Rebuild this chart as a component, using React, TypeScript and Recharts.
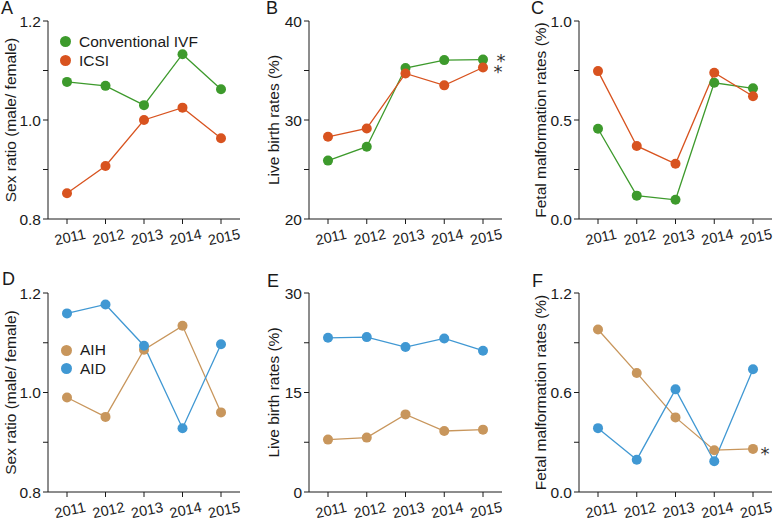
import React from "react";
import { LineChart, Line, XAxis, YAxis, Legend, LabelList, Label } from "recharts";

// years on the x axis
const years = ["2011", "2012", "2013", "2014", "2015"];

// IVF / ICSI
const sexRatioIVF = [1.077, 1.069, 1.03, 1.133, 1.062];
const sexRatioICSI = [0.852, 0.907, 1.0, 1.025, 0.963];
const liveBirthIVF = [25.9, 27.3, 35.25, 36.05, 36.1];
const liveBirthICSI = [28.3, 29.15, 34.7, 33.5, 35.3];
const malformIVF = [0.456, 0.118, 0.097, 0.688, 0.66];
const malformICSI = [0.747, 0.369, 0.279, 0.739, 0.62];

// AIH / AID
const sexRatioAIH = [0.99, 0.951, 1.086, 1.134, 0.96];
const sexRatioAID = [1.159, 1.177, 1.094, 0.928, 1.097];
const liveBirthAIH = [7.9, 8.2, 11.7, 9.2, 9.4];
const liveBirthAID = [23.25, 23.35, 21.85, 23.15, 21.3];
const malformAIH = [0.98, 0.718, 0.45, 0.252, 0.26];
const malformAID = [0.385, 0.195, 0.619, 0.185, 0.74];

// significance marks (2015 vs 2011)
const liveBirthIVFSig = ["", "", "", "", "*"];
const liveBirthICSISig = ["", "", "", "", "*"];
const malformAIHSig = ["", "", "", "", "*"];
const noSig = ["", "", "", "", ""];

const GREEN = "#3d9a2c";
const ORANGE = "#d8531f";
const BLUE = "#4098d3";
const TAN = "#c8965c";
const INK = "#1a1a1a";
const FONT = "'Liberation Sans', Arial, sans-serif";

type Series = { name: string; values: number[]; color: string; sig: string[]; sigDx: number; sigDy: number };

const YearTick = (props: any) => {
  const { x, y, payload } = props;
  const cx = x + 3;
  const cy = y + 11;
  return (
    <text x={cx} y={cy} transform={`rotate(-12 ${cx} ${cy})`} textAnchor="middle" dominantBaseline="central"
      fill={INK} fontSize={14.5} fontFamily={FONT}>
      {payload.value}
    </text>
  );
};

const DotLegend = (props: any) => {
  const { payload, rowH, order } = props;
  const items = [...(payload || [])].sort(
    (a: any, b: any) => order.indexOf(a.value) - order.indexOf(b.value)
  );
  return (
    <div style={{ fontFamily: FONT, fontSize: 15.5, color: INK }}>
      {items.map((p: any) => (
        <div key={p.value} style={{ display: "flex", alignItems: "center", height: rowH }}>
          <span style={{ width: 11, height: 11, borderRadius: "50%", background: p.color, marginRight: 8 }} />
          <span>{p.value}</span>
        </div>
      ))}
    </div>
  );
};

type PanelProps = {
  left: number; top: number; width: number; height: number;
  margin: { top: number; right: number; bottom: number; left: number };
  xHeight: number;
  domain: [number, number]; ticks: number[]; labeled: number[]; decimals: number;
  yLabel: string; labelGap: number;
  series: Series[];
  legend?: { left: number; top: number; rowH: number };
};

const Panel = (p: PanelProps) => {
  const rows = years.map((yr, i) => {
    const r: any = { year: yr };
    p.series.forEach((s, k) => {
      r["v" + k] = s.values[i];
      r["s" + k] = s.sig[i];
    });
    return r;
  });
  const order = p.series.map((s) => s.name);
  return (
    <div style={{ position: "absolute", left: p.left, top: p.top }}>
      <LineChart width={p.width} height={p.height} data={rows} margin={p.margin} style={{ fontFamily: FONT }}>
        <XAxis dataKey="year" height={p.xHeight} padding={{ left: 19, right: 19 }} interval={0}
          tickSize={5} tick={<YearTick />} stroke={INK} tickLine={{ stroke: INK }} />
        <YAxis width={30} domain={p.domain} ticks={p.ticks} type="number" allowDataOverflow
          tickSize={5} tickMargin={2} stroke={INK}
          tick={{ fill: INK, fontSize: 15.5, fontFamily: FONT }}
          tickFormatter={(v: number) => (p.labeled.some((l) => Math.abs(l - v) < 1e-9) ? v.toFixed(p.decimals) : "")}>
          <Label content={(lp: any) => {
            const vb = lp.viewBox || {};
            const cx = vb.x + vb.width - p.labelGap;
            const cy = vb.y + vb.height / 2;
            return (
              <text x={cx} y={cy} transform={`rotate(-90 ${cx} ${cy})`} textAnchor="middle" dominantBaseline="central"
                fill={INK} fontSize={15.5} fontFamily={FONT}>
                {p.yLabel}
              </text>
            );
          }} />
        </YAxis>
        {p.legend && (
          <Legend layout="vertical" align="center" verticalAlign="middle"
            wrapperStyle={{ left: p.legend.left, top: p.legend.top, width: "auto" }}
            content={(lp: any) => <DotLegend {...lp} rowH={p.legend!.rowH} order={order} />} />
        )}
        {p.series.map((s, k) => (
          <Line key={s.name} name={s.name} dataKey={"v" + k} type="linear" stroke={s.color} strokeWidth={1.3}
            dot={{ r: 5, fill: s.color, stroke: s.color, strokeWidth: 0 }} activeDot={false}
            isAnimationActive={false} legendType="circle">
            <LabelList dataKey={"s" + k} content={(lp: any) => {
              if (!lp.value) return null;
              return (
                <text x={lp.x + s.sigDx} y={lp.y + s.sigDy + 10} textAnchor="middle" fill="#333"
                  fontSize={18} fontFamily="'DejaVu Sans', sans-serif">
                  {lp.value}
                </text>
              );
            }} />
          </Line>
        ))}
      </LineChart>
    </div>
  );
};

const rowTop = { top: 21, bottom: 0 };
const rowBot = { top: 34, bottom: 0 };
const colA = { left: 18, right: 15 };
const colB = { left: 21, right: 11 };
const colC = { left: 33, right: 2 };

export default function App() {
  return (
    <div style={{ position: "absolute", left: 0, top: 0, width: 774, height: 518, background: "#fff", overflow: "hidden" }}>
      <Panel left={0} top={0} width={255} height={259} margin={{ ...rowTop, ...colA }} xHeight={40}
        domain={[0.8, 1.2]} ticks={[0.8, 0.9, 1.0, 1.1, 1.2]} labeled={[0.8, 1.0, 1.2]} decimals={1}
        yLabel="Sex ratio (male/ female)" labelGap={38}
        legend={{ left: 60, top: 32, rowH: 19 }}
        series={[
          { name: "Conventional IVF", values: sexRatioIVF, color: GREEN, sig: noSig, sigDx: 0, sigDy: 0 },
          { name: "ICSI", values: sexRatioICSI, color: ORANGE, sig: noSig, sigDx: 0, sigDy: 0 },
        ]} />
      <Panel left={258} top={0} width={255} height={259} margin={{ ...rowTop, ...colB }} xHeight={40}
        domain={[20, 40]} ticks={[20, 25, 30, 35, 40]} labeled={[20, 30, 40]} decimals={0}
        yLabel="Live birth rates (%)" labelGap={36}
        series={[
          { name: "Conventional IVF", values: liveBirthIVF, color: GREEN, sig: liveBirthIVFSig, sigDx: 18, sigDy: -3 },
          { name: "ICSI", values: liveBirthICSI, color: ORANGE, sig: liveBirthICSISig, sigDx: 15, sigDy: 0 },
        ]} />
      <Panel left={516} top={0} width={258} height={259} margin={{ ...rowTop, ...colC }} xHeight={40}
        domain={[0, 1]} ticks={[0, 0.25, 0.5, 0.75, 1]} labeled={[0, 0.5, 1]} decimals={1}
        yLabel="Fetal malformation rates (%)" labelGap={39}
        series={[
          { name: "Conventional IVF", values: malformIVF, color: GREEN, sig: noSig, sigDx: 0, sigDy: 0 },
          { name: "ICSI", values: malformICSI, color: ORANGE, sig: noSig, sigDx: 0, sigDy: 0 },
        ]} />
      <Panel left={0} top={259} width={255} height={259} margin={{ ...rowBot, ...colA }} xHeight={26}
        domain={[0.8, 1.2]} ticks={[0.8, 0.9, 1.0, 1.1, 1.2]} labeled={[0.8, 1.0, 1.2]} decimals={1}
        yLabel="Sex ratio (male/ female)" labelGap={38}
        legend={{ left: 61, top: 82, rowH: 18.5 }}
        series={[
          { name: "AIH", values: sexRatioAIH, color: TAN, sig: noSig, sigDx: 0, sigDy: 0 },
          { name: "AID", values: sexRatioAID, color: BLUE, sig: noSig, sigDx: 0, sigDy: 0 },
        ]} />
      <Panel left={258} top={259} width={255} height={259} margin={{ ...rowBot, ...colB }} xHeight={26}
        domain={[0, 30]} ticks={[0, 7.5, 15, 22.5, 30]} labeled={[0, 15, 30]} decimals={0}
        yLabel="Live birth rates (%)" labelGap={36}
        series={[
          { name: "AIH", values: liveBirthAIH, color: TAN, sig: noSig, sigDx: 0, sigDy: 0 },
          { name: "AID", values: liveBirthAID, color: BLUE, sig: noSig, sigDx: 0, sigDy: 0 },
        ]} />
      <Panel left={516} top={259} width={258} height={259} margin={{ ...rowBot, ...colC }} xHeight={26}
        domain={[0, 1.2]} ticks={[0, 0.3, 0.6, 0.9, 1.2]} labeled={[0, 0.6, 1.2]} decimals={1}
        yLabel="Fetal malformation rates (%)" labelGap={39}
        series={[
          { name: "AIH", values: malformAIH, color: TAN, sig: malformAIHSig, sigDx: 12, sigDy: 1 },
          { name: "AID", values: malformAID, color: BLUE, sig: noSig, sigDx: 0, sigDy: 0 },
        ]} />
      <svg width={774} height={518} style={{ position: "absolute", left: 0, top: 0, pointerEvents: "none" }}>
        <g fill={INK} fontSize={18} fontFamily={FONT}>
          <text x={1} y={13.5}>A</text>
          <text x={266} y={13.5}>B</text>
          <text x={531} y={13.5}>C</text>
          <text x={2} y={284.5}>D</text>
          <text x={267} y={286.5}>E</text>
          <text x={532} y={286.5}>F</text>
        </g>
      </svg>
    </div>
  );
}
